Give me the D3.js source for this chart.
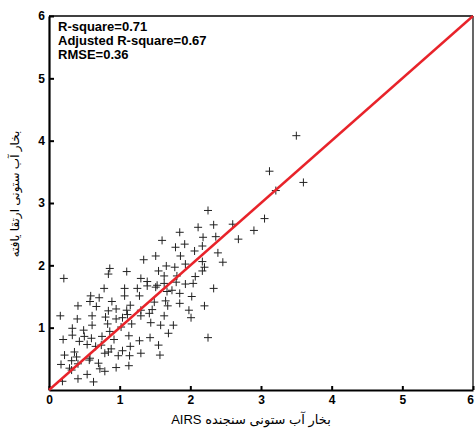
<!DOCTYPE html>
<html>
<head>
<meta charset="utf-8">
<script src="https://cdn.jsdelivr.net/npm/d3@7"></script>
<style>
  body { margin: 0; background: #fff; }
  text { font-family: "Liberation Sans", Arial, "DejaVu Sans", sans-serif; }
</style>
</head>
<body>
<div id="chart"></div>
<script>
// AIRS column water vapour (x) vs enhanced column water vapour (y)
var airsVals = [2.25,2.60,2.33,2.11,1.85,2.18,2.36,2.68,1.60,1.92,2.17,1.79,2.06,2.39,1.86,1.51,1.34,2.46,2.17,1.93,
  2.20,1.66,1.78,0.86,1.55,2.17,0.21,0.84,1.10,1.63,1.81,1.30,2.07,1.39,1.53,2.04,1.63,1.80,1.93,0.78,
  1.07,1.25,1.39,2.33,1.74,1.51,0.59,0.71,1.07,1.28,1.67,1.85,2.02,0.58,0.89,1.15,1.49,1.65,0.41,0.67,
  1.68,1.85,2.20,0.84,0.95,1.10,1.30,1.46,1.98,0.16,0.40,0.61,0.80,0.95,1.11,1.30,1.42,1.63,2.01,1.04,
  0.49,0.61,0.83,0.86,1.02,1.17,1.44,1.58,1.76,0.33,0.20,0.33,0.43,0.50,0.60,0.75,0.74,0.92,1.13,1.28,
  1.43,1.69,2.25,0.54,0.66,0.88,1.15,1.55,1.04,0.22,0.36,0.39,0.58,0.79,0.84,0.98,1.14,1.30,1.57,0.17,
  0.32,0.41,0.57,0.70,0.72,0.79,0.95,1.13,0.19,0.41,0.54,0.63,0.29,0.32,3.50,3.12,3.60,3.21,3.05,2.90];
var enhancedVals = [2.88,2.66,2.65,2.61,2.53,2.45,2.46,2.42,2.40,2.34,2.31,2.29,2.23,2.20,2.15,2.15,2.09,2.05,2.06,2.02,
  1.97,1.99,1.97,1.95,1.91,1.91,1.79,1.86,1.90,1.83,1.83,1.79,1.82,1.74,1.68,1.71,1.71,1.73,1.70,1.63,
  1.63,1.63,1.67,1.63,1.60,1.65,1.51,1.48,1.51,1.51,1.58,1.55,1.50,1.42,1.42,1.36,1.41,1.43,1.35,1.34,
  1.35,1.39,1.35,1.27,1.30,1.28,1.28,1.29,1.28,1.19,1.14,1.19,1.17,1.14,1.21,1.19,1.23,1.19,1.16,1.16,
  0.96,1.04,1.06,0.94,1.01,1.06,1.08,1.04,1.04,0.99,0.81,0.88,0.78,0.86,0.83,0.86,0.72,0.81,0.87,0.79,
  0.84,0.91,0.84,0.73,0.70,0.66,0.70,0.72,0.63,0.56,0.61,0.53,0.51,0.59,0.61,0.55,0.55,0.59,0.56,0.41,
  0.32,0.42,0.48,0.43,0.34,0.30,0.36,0.39,0.14,0.18,0.25,0.13,0.35,0.47,4.08,3.51,3.33,3.20,2.75,2.56];
var fitLine = [0, 6];
var xTicks = [0, 1, 2, 3, 4, 5, 6];
var yTicks = [1, 2, 3, 4, 5, 6];
var statLines = ["R-square=0.71", "Adjusted R-square=0.67", "RMSE=0.36"];
var xTitle = "بخار آب ستونی سنجنده AIRS";
var yTitle = "بخار آب ستونی ارتقا یافته";

var W = 475, H = 428;
var padL = 49, padR = 473, padT = 16, padB = 390;

var svg = d3.select("#chart")
  .append("svg")
    .attr("width", W)
    .attr("height", H);

var x = d3.scaleLinear().domain([0, 6]).range([padL, padR]);
var y = d3.scaleLinear().domain([0, 6]).range([padB, padT]);

// top and right border
svg.append("line").attr("x1", padL).attr("x2", padR).attr("y1", padT).attr("y2", padT)
  .attr("stroke", "#000").attr("stroke-width", 1.6);
svg.append("line").attr("x1", padR).attr("x2", padR).attr("y1", padT).attr("y2", padB)
  .attr("stroke", "#000").attr("stroke-width", 1.2);

// X axis
var gx = svg.append("g")
  .attr("transform", "translate(0," + padB + ")")
  .call(d3.axisBottom(x).tickValues(xTicks).tickFormat(d3.format("d"))
    .tickSizeInner(-4).tickSizeOuter(0).tickPadding(5));
// Y axis
var gy = svg.append("g")
  .attr("transform", "translate(" + padL + ",0)")
  .call(d3.axisLeft(y).tickValues(yTicks).tickFormat(d3.format("d"))
    .tickSizeInner(-5).tickSizeOuter(0).tickPadding(4));

[gx, gy].forEach(function(g) {
  g.select(".domain").attr("stroke", "#000").attr("stroke-width", 2.2);
  g.selectAll(".tick line").attr("stroke", "#000").attr("stroke-width", 2);
  g.selectAll(".tick text")
    .attr("fill", "#000")
    .style("font-size", "12px")
    .style("font-weight", "bold")
    .style("font-family", "'Liberation Sans', Arial, sans-serif");
});
// last x label sits on the window edge; pull it in a little
gx.selectAll(".tick text").filter(function(d) { return d === 6; }).attr("dx", "-0.25em");

// scatter "+" markers
var pts = airsVals.map(function(v, i) { return {a: v, e: enhancedVals[i]}; });
svg.selectAll("path.pt")
  .data(pts)
  .enter()
  .append("path")
    .attr("class", "pt")
    .attr("d", function(d) {
      var cx = x(d.a), cy = y(d.e), s = 4;
      return "M" + (cx - s) + "," + cy + "H" + (cx + s) + "M" + cx + "," + (cy - s) + "V" + (cy + s);
    })
    .attr("stroke", "#222")
    .attr("stroke-width", 1)
    .attr("fill", "none");

// 1:1 line
svg.append("line")
  .attr("x1", x(fitLine[0])).attr("y1", y(fitLine[0]))
  .attr("x2", x(fitLine[1])).attr("y2", y(fitLine[1]))
  .attr("stroke", "#e8232a")
  .attr("stroke-width", 2.4);

// stats
svg.selectAll("text.stat")
  .data(statLines)
  .enter()
  .append("text")
    .attr("class", "stat")
    .attr("x", 58)
    .attr("y", function(d, i) { return 31 + i * 14; })
    .style("font-size", "13px")
    .style("font-weight", "bold")
    .text(function(d) { return d; });

// axis titles
svg.append("text")
  .attr("x", 251)
  .attr("y", 424)
  .attr("direction", "rtl")
  .attr("text-anchor", "middle")
  .style("font-size", "13px")
  .text(xTitle);

svg.append("text")
  .attr("transform", "translate(19,194) rotate(-90)")
  .attr("direction", "rtl")
  .attr("text-anchor", "middle")
  .style("font-size", "12px")
  .text(yTitle);
</script>
</body>
</html>
